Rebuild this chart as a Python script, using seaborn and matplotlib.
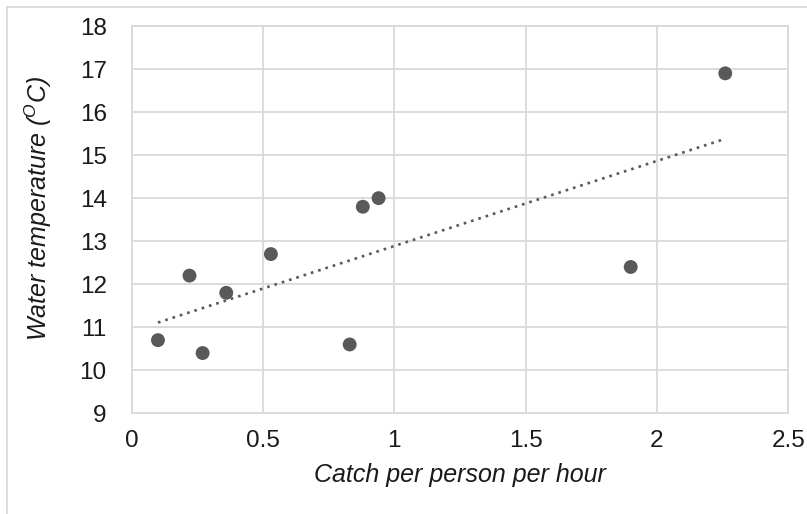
import numpy as np
import pandas as pd
import matplotlib
matplotlib.use("Agg")
import matplotlib.pyplot as plt
from matplotlib.patches import Rectangle
import seaborn as sns

# Catch rate vs water temperature observations
catch = [0.10, 0.22, 0.27, 0.36, 0.53, 0.83, 0.88, 0.94, 1.90, 2.26]
temperature = [10.7, 12.2, 10.4, 11.8, 12.7, 10.6, 13.8, 14.0, 12.4, 16.9]

x_ticks = [0, 0.5, 1, 1.5, 2, 2.5]
x_tick_labels = ["0", "0.5", "1", "1.5", "2", "2.5"]
y_ticks = [9, 10, 11, 12, 13, 14, 15, 16, 17, 18]

df = pd.DataFrame({"catch": catch, "temp": temperature})

# Least-squares linear trend over the observed catch range
slope, intercept = np.polyfit(df["catch"], df["temp"], 1)
trend = pd.DataFrame({"catch": [df["catch"].min(), df["catch"].max()]})
trend["temp"] = intercept + slope * trend["catch"]

sns.set_theme(style="white")
plt.rcParams["font.family"] = ["Liberation Sans", "DejaVu Sans"]
plt.rcParams["mathtext.fontset"] = "custom"
plt.rcParams["mathtext.rm"] = "Liberation Sans"
plt.rcParams["mathtext.it"] = "Liberation Sans:italic"

fig = plt.figure(figsize=(8.07, 5.14), dpi=100)
ax = fig.add_axes([0.1632, 0.1959, 0.8136, 0.7535])

grid_color = "#d9d9d9"
mark_color = "#595959"
text_color = "#1a1a1a"

sns.lineplot(data=trend, x="catch", y="temp", ax=ax, color=mark_color,
             linewidth=1.9, linestyle=(0, (1, 1.9)), zorder=3)
sns.scatterplot(data=df, x="catch", y="temp", ax=ax, color=mark_color,
                s=100, edgecolor="none", zorder=4)

ax.set_xlim(0, 2.5)
ax.set_ylim(9, 18)
ax.set_xticks(x_ticks)
ax.set_xticklabels(x_tick_labels)
ax.set_yticks(y_ticks)
ax.grid(True, color=grid_color, linewidth=1.3)
ax.set_axisbelow(True)
for side in ax.spines.values():
    side.set_visible(True)
    side.set_color(grid_color)
    side.set_linewidth(1.3)

ax.tick_params(axis="both", length=0, labelsize=17.5, colors=text_color)
ax.tick_params(axis="x", pad=12)
ax.tick_params(axis="y", pad=18)

ax.set_xlabel("Catch per person per hour", fontsize=18, style="italic",
              color=text_color, labelpad=8)
ax.set_ylabel(r"Water temperature ($\mathit{^{O}}$C)", fontsize=18,
              style="italic", color=text_color, labelpad=16)
ax.yaxis.set_label_coords(-0.118, 0.53)

# Light frame around the chart area
fig.patches.append(Rectangle((7 / 807, -0.1), 1.2, 1 - 7 / 514 + 0.1,
                             transform=fig.transFigure, fill=False,
                             edgecolor="#d9d9d9", linewidth=1.3))

fig.savefig("out.png", dpi=100)
